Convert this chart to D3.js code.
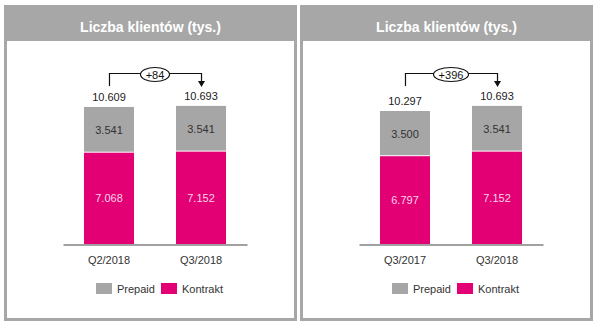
<!DOCTYPE html>
<html>
<head>
<meta charset="utf-8">
<script src="https://cdn.jsdelivr.net/npm/d3@7"></script>
<style>
  html, body { margin: 0; padding: 0; background: #fff; }
  svg { display: block; font-family: "Liberation Sans", Arial, sans-serif; }
</style>
</head>
<body>
<svg id="chart" width="600" height="329"></svg>
<script>
// Liczba klientów (tys.) – dwa porównania
const title = "Liczba klientów (tys.)";
const seriesNames = ["Prepaid", "Kontrakt"];

const categoriesQoQ = ["Q2/2018", "Q3/2018"];
const prepaidQoQ = [3541, 3541];
const kontraktQoQ = [7068, 7152];

const categoriesYoY = ["Q3/2017", "Q3/2018"];
const prepaidYoY = [3500, 3541];
const kontraktYoY = [6797, 7152];

const colors = { Prepaid: "#a6a6a6", Kontrakt: "#e20074" };
const frameGray = "#a7a7a7";

const pl = d3.formatLocale({ decimal: ",", thousands: ".", grouping: [3], currency: ["", " zł"] });
const fmt = pl.format(",d");
const fmtDelta = pl.format("+,d");

const svg = d3.select("#chart");

// panel geometry (local coordinates)
const panelW = 293, panelTop = 5, panelBottom = 321, headerH = 36, border = 3;
const baseY = 244;

const y = d3.scaleLinear().domain([0, 12000]).range([baseY, baseY - 155]);

function drawPanel(x0, categories, prepaid, kontrakt) {
  const g = svg.append("g").attr("transform", `translate(${x0},0)`);

  // frame + header band
  g.append("rect").attr("x", 0).attr("y", panelTop).attr("width", panelW)
    .attr("height", panelBottom - panelTop).attr("fill", frameGray);
  g.append("rect").attr("x", border).attr("y", panelTop + headerH).attr("width", panelW - 2 * border)
    .attr("height", panelBottom - panelTop - headerH - border).attr("fill", "#fff");
  g.append("text").attr("x", panelW / 2).attr("y", 32).attr("text-anchor", "middle")
    .attr("fill", "#fff").attr("font-size", 14).attr("font-weight", "bold").text(title);

  const x = d3.scaleBand().domain(categories).range([59, 243])
    .paddingInner(0.4565).paddingOuter(0.228);
  const bw = x.bandwidth();
  const rows = categories.map((c, i) => ({ c, p: prepaid[i], k: kontrakt[i], t: prepaid[i] + kontrakt[i] }));

  // Kontrakt segment
  g.selectAll(".k").data(rows).join("rect")
    .attr("x", d => x(d.c)).attr("width", bw)
    .attr("y", d => y(d.k)).attr("height", d => y(0) - y(d.k))
    .attr("fill", colors.Kontrakt);
  // Prepaid segment with a thin white gap above Kontrakt
  g.selectAll(".p").data(rows).join("rect")
    .attr("x", d => x(d.c)).attr("width", bw)
    .attr("y", d => y(d.t)).attr("height", d => y(d.k) - y(d.t) - 1)
    .attr("fill", colors.Prepaid);

  // inner values
  g.selectAll(".pl").data(rows).join("text")
    .attr("x", d => x(d.c) + bw / 2).attr("y", d => (y(d.t) + y(d.k)) / 2 + 4)
    .attr("text-anchor", "middle").attr("font-size", 11).attr("fill", "#333")
    .text(d => fmt(d.p));
  g.selectAll(".kl").data(rows).join("text")
    .attr("x", d => x(d.c) + bw / 2).attr("y", d => (y(d.k) + y(0)) / 2 + 4)
    .attr("text-anchor", "middle").attr("font-size", 11).attr("fill", "#fbd3e8")
    .text(d => fmt(d.k));

  // totals
  g.selectAll(".tl").data(rows).join("text")
    .attr("x", d => x(d.c) + bw / 2).attr("y", d => y(d.t) - 6)
    .attr("text-anchor", "middle").attr("font-size", 11).attr("fill", "#222")
    .text(d => fmt(d.t));

  // axis
  const ax = g.append("g").attr("transform", `translate(0,${baseY + 0.5})`)
    .call(d3.axisBottom(x).tickSizeInner(0).tickSizeOuter(0).tickPadding(12));
  ax.select(".domain").attr("stroke", "#444");
  ax.selectAll("text").attr("font-size", 11).attr("fill", "#333")
    .attr("font-family", "Liberation Sans, Arial, sans-serif");

  // change bracket
  const x1 = x(categories[0]) + bw / 2, x2 = x(categories[1]) + bw / 2;
  const ly = 73.5, mx = (x1 + x2) / 2;
  const delta = rows[1].t - rows[0].t;
  const label = fmtDelta(delta);
  const rx = label.length > 3 ? 17.5 : 14.5;
  g.append("path")
    .attr("d", `M${x1 + 0.5},86V${ly}H${x2 + 0.5}V82`)
    .attr("fill", "none").attr("stroke", "#111").attr("stroke-width", 1.2);
  g.append("path")
    .attr("d", `M${x2 + 0.5 - 3.5},81L${x2 + 0.5 + 3.5},81L${x2 + 0.5},87Z`)
    .attr("fill", "#111");
  g.append("ellipse").attr("cx", mx).attr("cy", 74.5).attr("rx", rx).attr("ry", 7)
    .attr("fill", "#fff").attr("stroke", "#111").attr("stroke-width", 1.2);
  g.append("text").attr("x", mx).attr("y", 78.5).attr("text-anchor", "middle")
    .attr("font-size", 11).attr("fill", "#111").text(label);

  // legend
  const lg = g.append("g").attr("transform", "translate(92,283)");
  const offs = [0, 65];
  seriesNames.forEach((s, i) => {
    lg.append("rect").attr("x", offs[i]).attr("y", 0).attr("width", 16).attr("height", 11).attr("fill", colors[s]);
    lg.append("text").attr("x", offs[i] + 21).attr("y", 10).attr("font-size", 11).attr("fill", "#333").text(s);
  });
}

drawPanel(4, categoriesQoQ, prepaidQoQ, kontraktQoQ);
drawPanel(300, categoriesYoY, prepaidYoY, kontraktYoY);
</script>
</body>
</html>
